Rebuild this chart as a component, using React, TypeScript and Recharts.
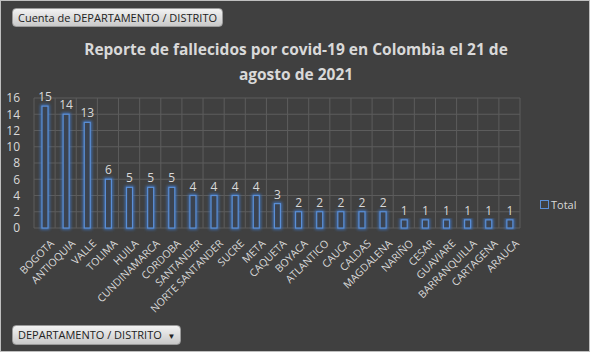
import React from 'react';
import { BarChart, Bar, XAxis, YAxis, CartesianGrid, LabelList } from 'recharts';

const departamentos = [
  'BOGOTA', 'ANTIOQUIA', 'VALLE', 'TOLIMA', 'HUILA', 'CUNDINAMARCA', 'CORDOBA',
  'SANTANDER', 'NORTE SANTANDER', 'SUCRE', 'META', 'CAQUETA', 'BOYACA', 'ATLANTICO',
  'CAUCA', 'CALDAS', 'MAGDALENA', 'NARIÑO', 'CESAR', 'GUAVIARE', 'BARRANQUILLA',
  'CARTAGENA', 'ARAUCA',
];
const totales = [15, 14, 13, 6, 5, 5, 5, 4, 4, 4, 4, 3, 2, 2, 2, 2, 2, 1, 1, 1, 1, 1, 1];
const yTicks = [0, 2, 4, 6, 8, 10, 12, 14, 16];

const data = departamentos.map((name, i) => ({ name, total: totales[i] }));

const FONT = '"Open Sans", "Noto Sans", sans-serif';
const TEXT = '#d9d9d9';
const BLUE = '#5b8fd6';

const GlowBar = (props: any) => {
  const { x, y, width, height } = props;
  if (!height) return null;
  return (
    <g>
      <rect x={x} y={y} width={width} height={height} fill="none" stroke="#3f78c8" strokeWidth={3} filter="url(#glow)" opacity={0.9} />
      <rect x={x} y={y} width={width} height={height} fill="#3b4350" stroke={BLUE} strokeWidth={1.2} />
    </g>
  );
};

const AngledTick = (props: any) => {
  const { x, y, payload } = props;
  return (
    <text x={x + 4} y={y + 2} transform={`rotate(-45, ${x + 4}, ${y + 2})`} textAnchor="end" dominantBaseline="hanging" fill={TEXT} fontSize={10.5} fontFamily={FONT}>
      {payload.value}
    </text>
  );
};

const buttonStyle: React.CSSProperties = {
  position: 'absolute',
  background: 'linear-gradient(#f2f2f2, #c9c9c9)',
  border: '1px solid #9a9a9a',
  borderRadius: 4,
  color: '#222',
  fontFamily: FONT,
  fontSize: 11,
  lineHeight: '17px',
  padding: '0 5px',
  whiteSpace: 'nowrap',
};

export default function App() {
  const n = departamentos.length;
  return (
    <div style={{ position: 'absolute', left: 0, top: 0, width: 590, height: 352, background: '#404040', boxSizing: 'border-box', border: '1px solid #bfbfbf', overflow: 'hidden' }}>
      <style>{'body{margin:0}'}</style>
      <div style={{ position: 'absolute', left: 0, top: 0 }}>
        <BarChart width={588} height={350} data={data} margin={{ top: 97, right: 69, bottom: 0, left: 0 }} barCategoryGap={0}>
          <defs>
            <filter id="glow" x="-100%" y="-20%" width="300%" height="140%">
              <feGaussianBlur stdDeviation="1.8" />
            </filter>
          </defs>
          <CartesianGrid
            stroke="#5c5c5c"
            verticalCoordinatesGenerator={({ offset }: any) =>
              Array.from({ length: n + 1 }, (_, i) => offset.left + (i * offset.width) / n)
            }
          />
          <XAxis dataKey="name" interval={0} tick={<AngledTick />} tickLine={false} axisLine={false} height={123} />
          <YAxis domain={[0, 16]} ticks={yTicks} interval={0} width={33} tickLine={false} axisLine={false} tick={{ fill: TEXT, fontSize: 12, fontFamily: FONT }} tickMargin={8} />
          <Bar dataKey="total" barSize={6} shape={<GlowBar />} isAnimationActive={false}>
            <LabelList dataKey="total" position="top" offset={5} fill={TEXT} fontSize={12} fontFamily={FONT} />
          </Bar>
        </BarChart>
      </div>
      <div style={{ position: 'absolute', left: 0, top: 36, width: 590, textAlign: 'center', color: TEXT, fontFamily: FONT, fontWeight: 700, fontSize: 15.5, lineHeight: '25px' }}>
        Reporte de fallecidos por covid-19 en Colombia el 21 de
        <br />
        agosto de 2021
      </div>
      <div style={{ ...buttonStyle, left: 11, top: 7 }}>Cuenta de DEPARTAMENTO / DISTRITO</div>
      <div style={{ ...buttonStyle, left: 11, top: 324 }}>DEPARTAMENTO / DISTRITO&nbsp;&nbsp;<span style={{ fontSize: 8 }}>▼</span></div>
      <div style={{ position: 'absolute', left: 539, top: 196, display: 'flex', alignItems: 'center', color: TEXT, fontFamily: FONT, fontSize: 11 }}>
        <span style={{ display: 'inline-block', width: 7, height: 7, border: `1px solid ${BLUE}`, marginRight: 2 }} />
        Total
      </div>
    </div>
  );
}
